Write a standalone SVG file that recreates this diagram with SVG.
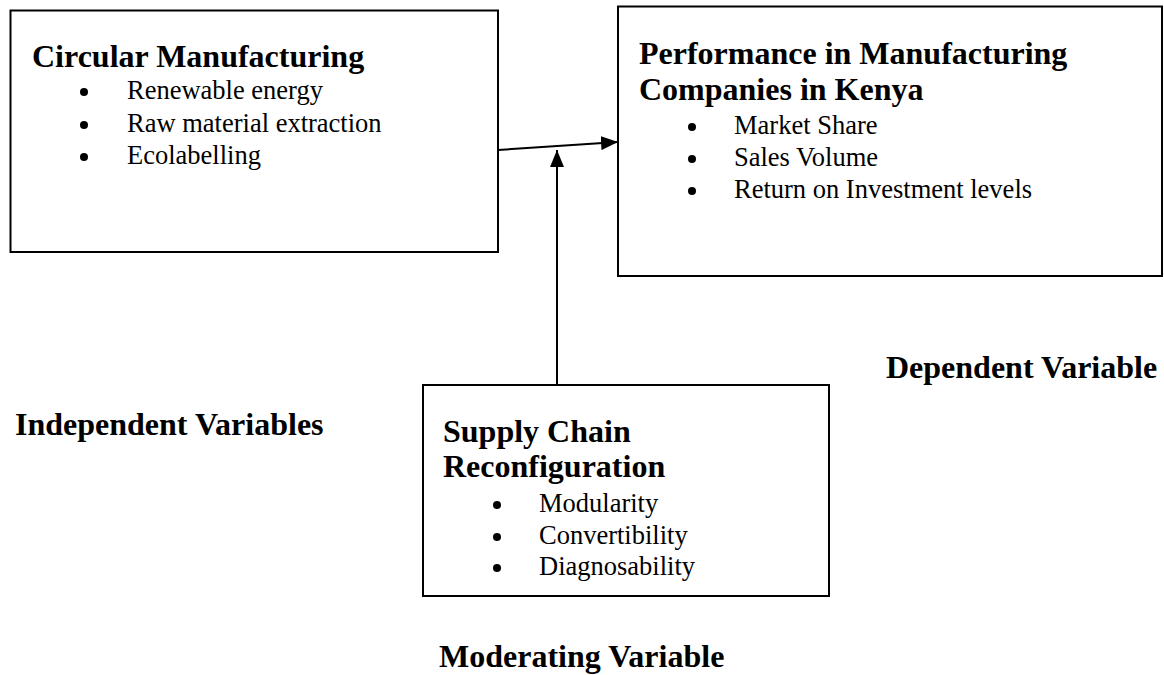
<svg xmlns="http://www.w3.org/2000/svg" width="1164" height="675" viewBox="0 0 1164 675">
  <style>
    .box { fill: #fff; stroke: #000; stroke-width: 2; }
    .title { font-family: "Liberation Serif", "Times New Roman", serif; font-size: 32px; font-weight: bold; fill: #000; }
    .item { font-family: "Liberation Serif", "Times New Roman", serif; font-size: 26.5px; fill: #000; }
    .bullet { fill: #000; }
    .conn { stroke: #000; stroke-width: 2; fill: none; }
  </style>
  <defs>
    <marker id="arrow" viewBox="0 0 17 14" refX="17" refY="7" markerWidth="17" markerHeight="14" markerUnits="userSpaceOnUse" orient="auto">
      <path d="M0,0 L17,7 L0,14 Z" fill="#000"/>
    </marker>
  </defs>
  <rect width="1164" height="675" fill="#fff"/>

  <!-- Independent variable -->
  <g id="circular-manufacturing">
    <rect class="box" x="10.5" y="10.5" width="487.5" height="241.5"/>
    <text class="title" x="32" y="67">Circular Manufacturing</text>
    <circle class="bullet" cx="84" cy="92" r="4"/>
    <text class="item" x="127" y="99">Renewable energy</text>
    <circle class="bullet" cx="84" cy="125" r="4"/>
    <text class="item" x="127" y="132">Raw material extraction</text>
    <circle class="bullet" cx="84" cy="157" r="4"/>
    <text class="item" x="127" y="164">Ecolabelling</text>
  </g>

  <!-- Dependent variable -->
  <g id="performance">
    <rect class="box" x="618" y="6.5" width="544" height="269.5"/>
    <text class="title" x="639" y="64">Performance in Manufacturing</text>
    <text class="title" x="639" y="100">Companies in Kenya</text>
    <circle class="bullet" cx="692" cy="127" r="4"/>
    <text class="item" x="734" y="134">Market Share</text>
    <circle class="bullet" cx="692" cy="159" r="4"/>
    <text class="item" x="734" y="166">Sales Volume</text>
    <circle class="bullet" cx="692" cy="191" r="4"/>
    <text class="item" x="734" y="198">Return on Investment levels</text>
  </g>

  <!-- Moderating variable -->
  <g id="supply-chain">
    <rect class="box" x="423" y="385" width="406" height="211"/>
    <text class="title" x="443" y="442">Supply Chain</text>
    <text class="title" x="443" y="477">Reconfiguration</text>
    <circle class="bullet" cx="497" cy="505" r="4"/>
    <text class="item" x="539" y="512">Modularity</text>
    <circle class="bullet" cx="497" cy="537" r="4"/>
    <text class="item" x="539" y="544">Convertibility</text>
    <circle class="bullet" cx="497" cy="568" r="4"/>
    <text class="item" x="539" y="575">Diagnosability</text>
  </g>

  <!-- Captions -->
  <g id="labels">
    <text class="title" x="15" y="435">Independent Variables</text>
    <text class="title" x="886" y="378">Dependent Variable</text>
    <text class="title" x="439" y="667">Moderating Variable</text>
  </g>

  <!-- Connectors -->
  <g id="connectors">
    <line class="conn" x1="498" y1="150" x2="618" y2="142" marker-end="url(#arrow)"/>
    <line class="conn" x1="557" y1="385" x2="557" y2="150" marker-end="url(#arrow)"/>
  </g>
</svg>
